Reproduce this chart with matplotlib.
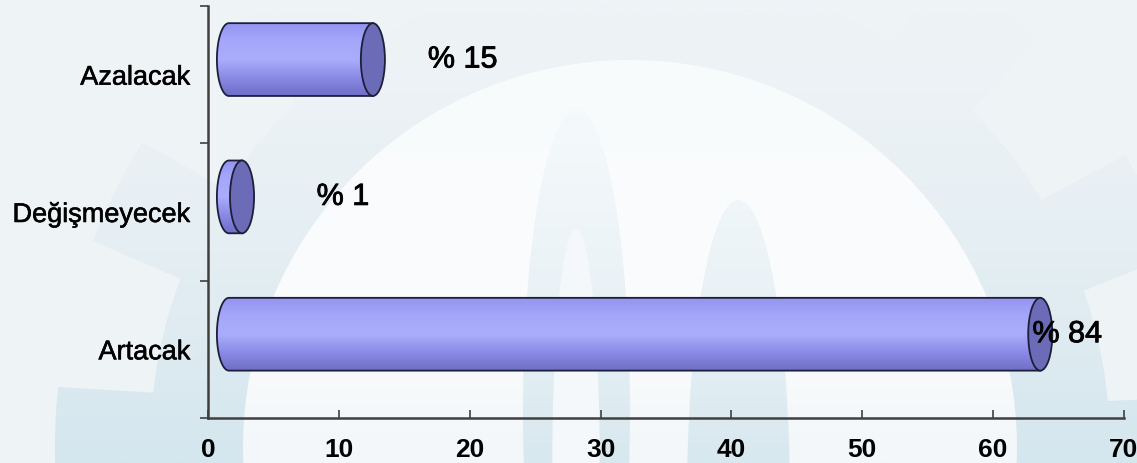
import numpy as np
import matplotlib
matplotlib.use("Agg")
import matplotlib.pyplot as plt
from matplotlib import patches
from matplotlib import patheffects
from matplotlib.path import Path
from matplotlib.colors import LinearSegmentedColormap

plt.rcParams['font.family'] = ['Liberation Sans', 'DejaVu Sans']

# data, bottom to top
categories = ['Artacak', 'Değişmeyecek', 'Azalacak']
values = [63.6, 2.6, 12.6]          # bar ends
labels = ['% 84', '% 1', '% 15']
label_x = [63.0, 8.3, 16.8]
xticks = [0, 10, 20, 30, 40, 50, 60, 70]

W, H = 1137, 463
fig = plt.figure(figsize=(W / 100, H / 100), dpi=100)
heavy = [patheffects.withStroke(linewidth=0.6, foreground='black')]

# ---- faint watermark background (gear + disc) ----
bg = fig.add_axes([0, 0, 1, 1])
bg.set_xlim(0, W)
bg.set_ylim(H, 0)
bg.axis('off')
bg.add_patch(patches.Rectangle((0, 0), W, H, color='#eef3f6', zorder=0))

g = np.linspace(0, 1, 256)
grad = (g ** 1.6).reshape(-1, 1)
ring_cmap = LinearSegmentedColormap.from_list('ring', ['#eef3f6', '#d4e6ee'])
cx, cy = 630, 447
ang = np.linspace(0, 2 * np.pi, 721)
teeth = 14
rad = np.where((np.mod(ang * teeth / (2 * np.pi) + 0.2, 1.0) < 0.45), 575, 480)
gear = Path(np.column_stack([cx + rad * np.cos(ang), cy + rad * np.sin(ang)]))
im = bg.imshow(grad, extent=(0, W, H, 0), cmap=ring_cmap, aspect='auto', zorder=1)
gp = patches.PathPatch(gear, transform=bg.transData, visible=False)
bg.add_patch(gp)
im.set_clip_path(gp)

disc_cmap = LinearSegmentedColormap.from_list('disc', ['#f8fbfc', '#fbfcfd', '#f3f7f9'])
disc = patches.Ellipse((cx, cy), 774, 774, transform=bg.transData, visible=False)
bg.add_patch(disc)
im2 = bg.imshow(grad, extent=(0, W, H, 0), cmap=disc_cmap, aspect='auto', zorder=2)
im2.set_clip_path(disc)

letter_cmap = LinearSegmentedColormap.from_list('let', ['#f8fbfc', '#d8e8ef'])
for (x0, x1, top) in [(523, 630, 110), (687, 790, 200)]:
    arch = patches.Ellipse(((x0 + x1) / 2, top + 300), x1 - x0, 600, visible=False,
                           transform=bg.transData)
    bg.add_patch(arch)
    im3 = bg.imshow(grad, extent=(0, W, H, 0), cmap=letter_cmap, aspect='auto', zorder=3)
    im3.set_clip_path(arch)
bg.add_patch(patches.Ellipse((576, 460), 46, 460, color='#f5f8fa', zorder=4))
bg.set_xlim(0, W)
bg.set_ylim(H, 0)

# ---- main chart ----
ax = fig.add_axes([208 / W, 45 / H, 916 / W, 412 / H])
ax.set_facecolor('none')

body_cmap = LinearSegmentedColormap.from_list(
    'body', ['#6e6ec6', '#8a8ae6', '#a9adfb', '#a5a8fa', '#9494f2'])
cap_color = '#6b6bb8'
edge = '#1e1e3a'
start = 1.6         # perspective offset of left cap
capw = 1.84         # cap width in x units
h = 0.53
gy = np.linspace(0, 1, 256).reshape(-1, 1)

for i, v in enumerate(values):
    c = i + 0.11
    t = np.linspace(np.pi / 2, 3 * np.pi / 2, 60)
    xs = list(start + capw / 2 * np.cos(t)) + [v, v]
    ys = list(c + h / 2 * np.sin(t)) + [c - h / 2, c + h / 2]
    body = patches.Polygon(np.column_stack([xs, ys]), closed=True, facecolor='none',
                           edgecolor=edge, lw=1.3, zorder=3)
    ax.add_patch(body)
    img = ax.imshow(gy, extent=(0, 70, c - h / 2, c + h / 2), origin='lower',
                    cmap=body_cmap, aspect='auto', zorder=2)
    img.set_clip_path(body)
    ax.add_patch(patches.Ellipse((v, c), capw, h, facecolor=cap_color,
                                 edgecolor=edge, lw=1.3, zorder=4))
    ax.text(label_x[i], c, labels[i], fontsize=22, va='center', ha='left', zorder=5,
            path_effects=heavy)

ax.set_xlim(0, 70)
ax.set_ylim(-0.5, 2.5)

for s in ['top', 'right']:
    ax.spines[s].set_visible(False)
for s in ['left', 'bottom']:
    ax.spines[s].set_color('#404040')
    ax.spines[s].set_linewidth(1.8)

ax.set_xticks(xticks)
ax.set_xticklabels([str(x) for x in xticks], fontsize=19, fontweight='bold')
ax.tick_params(axis='x', direction='in', length=6, width=1.2, color='#404040', pad=14.5)

ax.set_yticks([-0.5, 0.5, 1.5, 2.5])
ax.set_yticklabels([])
ax.tick_params(axis='y', which='major', direction='out', length=6, width=1.2, color='#404040')
ax.set_yticks(range(len(categories)), minor=True)
ax.set_yticklabels(categories, minor=True, fontsize=19.5)
ax.tick_params(axis='y', which='minor', length=0, pad=12.5)
for lab in ax.get_yticklabels(minor=True):
    lab.set_path_effects([patheffects.withStroke(linewidth=0.4, foreground='black')])

fig.savefig('out.png', dpi=100)
